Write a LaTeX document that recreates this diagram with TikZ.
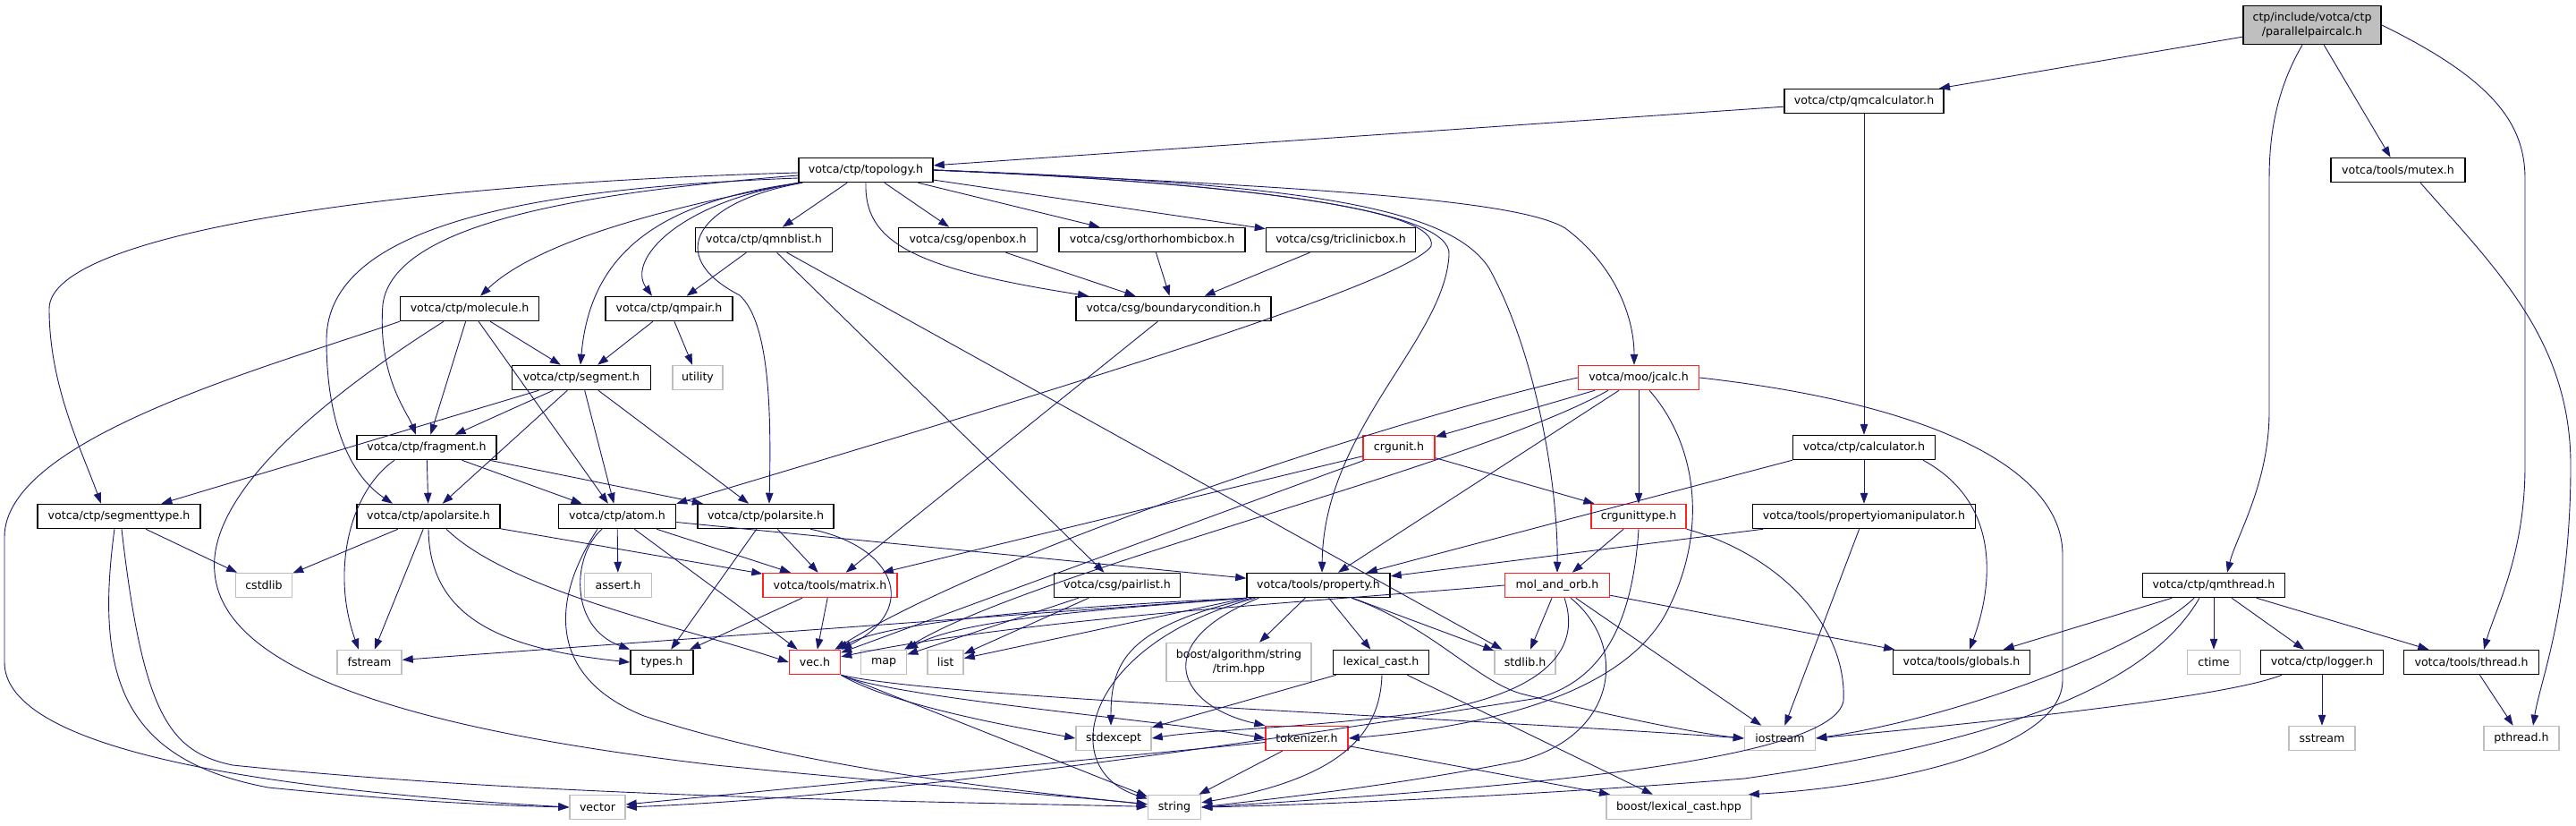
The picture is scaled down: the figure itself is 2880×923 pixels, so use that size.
\documentclass[tikz,border=0pt]{standalone}
\usepackage{fontspec}
\setmainfont{DejaVu Sans}
\usetikzlibrary{arrows.meta}
\definecolor{edgec}{HTML}{191970}
\definecolor{grayb}{HTML}{BFBFBF}
\definecolor{redb}{HTML}{FF2020}
\begin{document}
\begin{tikzpicture}[x=1pt,y=-1pt,
  nd/.style={draw=black, line width=1.5pt, fill=white, minimum height=27pt, inner xsep=2pt, inner ysep=0pt,
    font=\fontsize{12.6}{16}\selectfont},
  rd/.style={nd, draw=redb},
  gr/.style={nd, draw=grayb},
  e/.style={draw=edgec, line width=0.9pt, -{Triangle[length=12pt,width=8.5pt]}}]
\fill[white] (0,0) rectangle (2880,923);
\useasboundingbox (0,0) rectangle (2880,923);
% ---------- nodes ----------
\node[nd, minimum width=154pt, minimum height=43pt, fill=grayb, align=center] (P) at (2585,28) {ctp/include/votca/ctp\\/parallelpaircalc.h};
\node[nd, minimum width=178pt] (qmcalc) at (2084,113) {votca/ctp/qmcalculator.h};
\node[nd, minimum width=150pt] (topology) at (968,190) {votca/ctp/topology.h};
\node[nd, minimum width=150pt] (mutex) at (2681,190) {votca/tools/mutex.h};
\node[nd, minimum width=153pt] (qmnblist) at (854,268) {votca/ctp/qmnblist.h};
\node[nd, minimum width=155pt] (openbox) at (1082,268) {votca/csg/openbox.h};
\node[nd, minimum width=208pt] (ortho) at (1288,268) {votca/csg/orthorhombicbox.h};
\node[nd, minimum width=167pt] (triclinic) at (1499,268) {votca/csg/triclinicbox.h};
\node[nd, minimum width=155pt] (molecule) at (525,345) {votca/ctp/molecule.h};
\node[nd, minimum width=142pt] (qmpair) at (748,345) {votca/ctp/qmpair.h};
\node[nd, minimum width=218pt] (bc) at (1312,345) {votca/csg/boundarycondition.h};
\node[nd, minimum width=155pt] (segment) at (650,422) {votca/ctp/segment.h};
\node[gr, minimum width=56pt] (utility) at (780,422) {utility};
\node[rd, minimum width=135pt] (jcalc) at (1832,422) {votca/moo/jcalc.h};
\node[nd, minimum width=156pt] (fragment) at (477,500) {votca/ctp/fragment.h};
\node[rd, minimum width=80pt] (crgunit) at (1564,500) {crgunit.h};
\node[nd, minimum width=159pt] (calculator) at (2084,500) {votca/ctp/calculator.h};
\node[nd, minimum width=182pt] (segtype) at (133,577) {votca/ctp/segmenttype.h};
\node[nd, minimum width=160pt] (apolar) at (479,577) {votca/ctp/apolarsite.h};
\node[nd, minimum width=131pt] (atom) at (690,577) {votca/ctp/atom.h};
\node[nd, minimum width=152pt] (polar) at (856,577) {votca/ctp/polarsite.h};
\node[rd, minimum width=106pt] (crgtype) at (1832,577) {crgunittype.h};
\node[nd, minimum width=249pt] (propio) at (2084,577) {votca/tools/propertyiomanipulator.h};
\node[gr, minimum width=63pt] (cstdlib) at (295,654) {cstdlib};
\node[gr, minimum width=75pt] (assert) at (691,654) {assert.h};
\node[rd, minimum width=150pt] (matrix) at (928,654) {votca/tools/matrix.h};
\node[nd, minimum width=141pt] (pairlist) at (1249,654) {votca/csg/pairlist.h};
\node[nd, minimum width=160pt] (property) at (1474,654) {votca/tools/property.h};
\node[rd, minimum width=117pt] (molorb) at (1741,654) {mol\_and\_orb.h};
\node[nd, minimum width=159pt] (qmthread) at (2475,654) {votca/ctp/qmthread.h};
\node[gr, minimum width=72pt] (fstream) at (413,740) {fstream};
\node[nd, minimum width=70pt] (types) at (740,740) {types.h};
\node[rd, minimum width=57pt] (vec) at (911,740) {vec.h};
\node[gr, minimum width=51pt] (map) at (988,740) {map};
\node[gr, minimum width=40pt] (list) at (1057,740) {list};
\node[gr, minimum width=162pt, minimum height=43pt, align=center] (trim) at (1385,740) {boost/algorithm/string\\/trim.hpp};
\node[nd, minimum width=107pt] (lexcast) at (1544,740) {lexical\_cast.h};
\node[gr, minimum width=68pt] (stdlib) at (1705,740) {stdlib.h};
\node[nd, minimum width=153pt] (globals) at (2193,740) {votca/tools/globals.h};
\node[gr, minimum width=59pt] (ctime) at (2475,740) {ctime};
\node[nd, minimum width=137pt] (logger) at (2596,740) {votca/ctp/logger.h};
\node[nd, minimum width=151pt] (thread) at (2763,740) {votca/tools/thread.h};
\node[gr, minimum width=84pt] (stdexcept) at (1245,825) {stdexcept};
\node[rd, minimum width=92pt] (tokenizer) at (1461,825) {tokenizer.h};
\node[gr, minimum width=79pt] (iostream) at (1990,825) {iostream};
\node[gr, minimum width=74pt] (sstream) at (2596,825) {sstream};
\node[gr, minimum width=84pt] (pthread) at (2819,825) {pthread.h};
\node[gr, minimum width=62pt] (vector) at (668,902) {vector};
\node[gr, minimum width=59pt] (string) at (1313,902) {string};
\node[gr, minimum width=162pt] (boosthpp) at (1877,902) {boost/lexical\_cast.hpp};
% ---------- edges ----------
% root
\draw[e] (P) -- (qmcalc);
\draw[e] (P) -- (mutex);
\draw[e] ([xshift=-11pt]P.south) .. controls (2545,100) and (2537,150) .. (2537,200) -- (2537,460) .. controls (2537,540) and (2500,600) .. ([xshift=15pt]qmthread.north);
\draw[e] (P.east) .. controls (2790,90) and (2823,140) .. (2823,200) -- (2823,520) .. controls (2823,620) and (2790,680) .. ([xshift=14pt]thread.north);
\draw[e] ([xshift=25pt]mutex.south) .. controls (2790,300) and (2874,380) .. (2874,520) .. controls (2874,680) and (2840,760) .. ([xshift=13pt]pthread.north);
\draw[e] (qmcalc) -- (topology);
\draw[e] (qmcalc) -- (calculator);
% topology
\draw[e] (topology) -- (qmnblist);
\draw[e] (topology) -- (openbox);
\draw[e] (topology) -- (ortho);
\draw[e] (topology) -- (triclinic);
\draw[e] (topology.south) .. controls (966,270) and (1020,300) .. ([xshift=-95pt]bc.north);
\draw[e] (topology.south west) .. controls (700,240) and (590,280) .. ([xshift=12pt]molecule.north);
\draw[e] ([xshift=3pt]topology.south west) .. controls (760,225) and (700,290) .. ([xshift=-19pt]qmpair.north);
\draw[e] ([xshift=2pt]topology.south west) .. controls (740,225) and (660,280) .. ([xshift=-1pt]segment.north);
\draw[e] ([xshift=5pt]topology.south west) .. controls (780,225) and (740,285) .. (827,330) .. controls (862,362) and (862,470) .. ([xshift=4pt]polar.north);
\draw[e] ([yshift=-3pt]topology.west) .. controls (450,205) and (55,260) .. (55,345) .. controls (55,430) and (90,500) .. ([xshift=-20pt]segtype.north);
\draw[e] ([yshift=-6pt]topology.west) .. controls (650,215) and (440,250) .. (428,340) .. controls (422,420) and (455,460) .. ([xshift=-12pt]fragment.north);
\draw[e] ([yshift=-9pt]topology.west) .. controls (600,210) and (365,250) .. (365,380) .. controls (365,470) and (390,530) .. ([xshift=-40pt]apolar.north);
\draw[e] (topology.east) .. controls (1400,205) and (1610,235) .. (1600,275) .. controls (1570,320) and (1100,460) .. (atom.north east);
\draw[e] (topology.east) .. controls (1400,205) and (1625,235) .. (1620,285) .. controls (1615,380) and (1480,480) .. ([xshift=4pt]property.north);
\draw[e] (topology.east) .. controls (1450,205) and (1620,230) .. (1665,300) .. controls (1720,400) and (1742,550) .. (molorb.north);
\draw[e] (topology.east) .. controls (1500,210) and (1700,225) .. (1750,255) .. controls (1810,300) and (1827,360) .. ([xshift=-5pt]jcalc.north);
% second level
\draw[e] (qmnblist) -- (qmpair);
\draw[e] (qmnblist) -- (pairlist);
\draw[e] (qmnblist) -- (stdlib);
\draw[e] (openbox) -- (bc);
\draw[e] (ortho) -- (bc);
\draw[e] (triclinic) -- (bc);
\draw[e] (bc) -- (matrix);
\draw[e] (molecule) -- (segment);
\draw[e] (molecule) -- (fragment);
\draw[e] (molecule) -- (atom);
\draw[e] (molecule.south west) .. controls (300,410) and (5,490) .. (5,600) -- (5,740) .. controls (5,830) and (250,880) .. (vector.west);
\draw[e] ([xshift=-29pt]molecule.south) .. controls (400,420) and (230,540) .. (240,640) .. controls (250,760) and (500,820) .. (800,855) .. controls (1000,875) and (1200,890) .. (string);
\draw[e] (qmpair) -- (segment);
\draw[e] (qmpair) -- (utility);
\draw[e] (segment) -- (segtype);
\draw[e] (segment) -- (fragment);
\draw[e] (segment) -- (apolar);
\draw[e] (segment) -- (atom);
\draw[e] (segment) -- (polar);
\draw[e] (fragment) -- (apolar);
\draw[e] (fragment) -- (atom);
\draw[e] (fragment) -- (polar);
\draw[e] ([xshift=-36pt]fragment.south) .. controls (390,550) and (370,640) .. ([xshift=-12pt]fstream.north);
\draw[e] (segtype) -- (cstdlib);
\draw[e] ([xshift=-5pt]segtype.south) .. controls (105,760) and (140,850) .. (300,880) .. controls (450,895) and (550,900) .. (vector.west);
\draw[e] ([xshift=3pt]segtype.south) .. controls (160,800) and (190,840) .. (260,855) .. controls (600,890) and (1000,895) .. (string);
\draw[e] (apolar) -- (cstdlib);
\draw[e] (apolar) -- (fstream);
\draw[e] (apolar) -- (matrix);
\draw[e] (apolar.south) .. controls (480,690) and (560,725) .. (types.west);
\draw[e] ([xshift=20pt]apolar.south) .. controls (570,660) and (760,700) .. (vec.west);
\draw[e] (atom) -- (assert);
\draw[e] (atom) -- (matrix);
\draw[e] (atom) -- (vec);
\draw[e] (atom) -- (property);
\draw[e] ([xshift=-17pt]atom.south) .. controls (640,620) and (635,700) .. (types.north west);
\draw[e] ([xshift=-22pt]atom.south) .. controls (610,680) and (620,760) .. (720,800) .. controls (900,860) and (1150,885) .. (string);
\draw[e] (polar) -- (types);
\draw[e] (polar) -- (matrix);
\draw[e] ([xshift=50pt]polar.south) .. controls (1000,610) and (1030,680) .. (vec.north east);
\draw[e] (matrix) -- (vec);
\draw[e] (matrix) -- (types);
% moo
\draw[e] (jcalc) -- (crgunit);
\draw[e] (jcalc) -- (crgtype);
\draw[e] (jcalc) -- (property);
\draw[e] (jcalc.west) .. controls (1550,470) and (1100,620) .. (vec);
\draw[e] ([xshift=-34pt]jcalc.south) .. controls (1650,520) and (1150,640) .. (map);
\draw[e] ([xshift=12pt]jcalc.south) .. controls (1900,500) and (1910,600) .. (1860,690) .. controls (1800,790) and (1620,815) .. (tokenizer.east);
\draw[e] (jcalc.east) .. controls (2150,450) and (2306,520) .. (2306,620) -- (2306,760) .. controls (2306,840) and (2100,880) .. ([xshift=-4pt]boosthpp.north east);
\draw[e] (crgunit) -- (crgtype);
\draw[e] (crgunit) -- (matrix);
\draw[e] (crgunit) -- (vec);
\draw[e] (crgtype) -- (molorb);
\draw[e] (crgtype.south) .. controls (1825,700) and (1790,760) .. (1720,780) .. controls (1400,830) and (1000,890) .. (vector.east);
\draw[e] (crgtype.south east) .. controls (1990,620) and (2065,700) .. (2061,783) .. controls (2050,850) and (1700,880) .. (string.east);
\draw[e] (molorb) -- (stdlib);
\draw[e] (molorb) -- (iostream);
\draw[e] (molorb) -- (globals);
\draw[e] (molorb.west) .. controls (1500,670) and (1150,690) .. (vec);
\draw[e] ([xshift=8pt]molorb.south) .. controls (1770,730) and (1720,775) .. (1600,795) .. controls (1450,815) and (1350,815) .. (stdexcept.east);
\draw[e] ([xshift=15pt]molorb.south) .. controls (1820,720) and (1810,820) .. (1700,850) .. controls (1550,880) and (1400,895) .. (string.east);
% calculator branch
\draw[e] (calculator.south west) -- (property);
\draw[e] (calculator) -- (propio);
\draw[e] ([xshift=66pt]calculator.south) .. controls (2235,560) and (2230,650) .. ([xshift=9pt]globals.north);
\draw[e] (propio) -- (property);
\draw[e] (propio) -- (iostream);
% qmthread branch
\draw[e] (qmthread) -- (globals);
\draw[e] (qmthread) -- (ctime);
\draw[e] (qmthread) -- (logger);
\draw[e] (qmthread) -- (thread);
\draw[e] ([xshift=-22pt]qmthread.south) .. controls (2400,720) and (2200,800) .. (iostream.east);
\draw[e] ([xshift=-16pt]qmthread.south) .. controls (2400,770) and (2230,830) .. (1950,870) .. controls (1700,890) and (1450,900) .. (string.east);
\draw[e] ([xshift=-45pt]logger.south) .. controls (2500,775) and (2300,800) .. (iostream.east);
\draw[e] (logger) -- (sstream);
\draw[e] (thread) -- (pthread);
% pairlist
\draw[e] (pairlist) -- (map);
\draw[e] (pairlist) -- (list);
% property
\draw[e] (property) -- (trim);
\draw[e] (property) -- (lexcast);
\draw[e] (property) -- (stdlib);
\draw[e] (property.south west) -- (list);
\draw[e] (property.south west) -- (fstream);
\draw[e] (property.south west) .. controls (1250,680) and (1080,690) .. (map);
\draw[e] (property.south west) .. controls (1250,675) and (1000,690) .. (vec);
\draw[e] ([xshift=6pt]property.south west) .. controls (1260,700) and (1242,740) .. ([xshift=-3pt]stdexcept.north);
\draw[e] ([xshift=10pt]property.south west) .. controls (1210,720) and (1180,860) .. (string);
\draw[e] ([xshift=14pt]property.south west) .. controls (1280,720) and (1320,790) .. (tokenizer.north west);
\draw[e] ([xshift=37pt]property.south) .. controls (1600,700) and (1650,760) .. (1700,775) .. controls (1800,800) and (1900,820) .. (iostream.west);
% vec
\draw[e] (vec.south east) .. controls (1000,790) and (1150,815) .. (stdexcept.west);
\draw[e] (vec.south east) .. controls (1000,780) and (1300,805) .. (tokenizer.west);
\draw[e] (vec.south east) .. controls (1050,780) and (1600,800) .. (iostream.west);
\draw[e] (vec.south east) -- (string);
% lexical cast / tokenizer
\draw[e] (lexcast) -- (stdexcept);
\draw[e] (lexcast) -- (boosthpp);
\draw[e] ([xshift=1pt]lexcast.south) .. controls (1543,820) and (1500,870) .. (string);
\draw[e] (tokenizer) -- (string);
\draw[e] (tokenizer) -- (boosthpp);
\draw[e] (tokenizer) -- (vector);
\end{tikzpicture}
\end{document}
